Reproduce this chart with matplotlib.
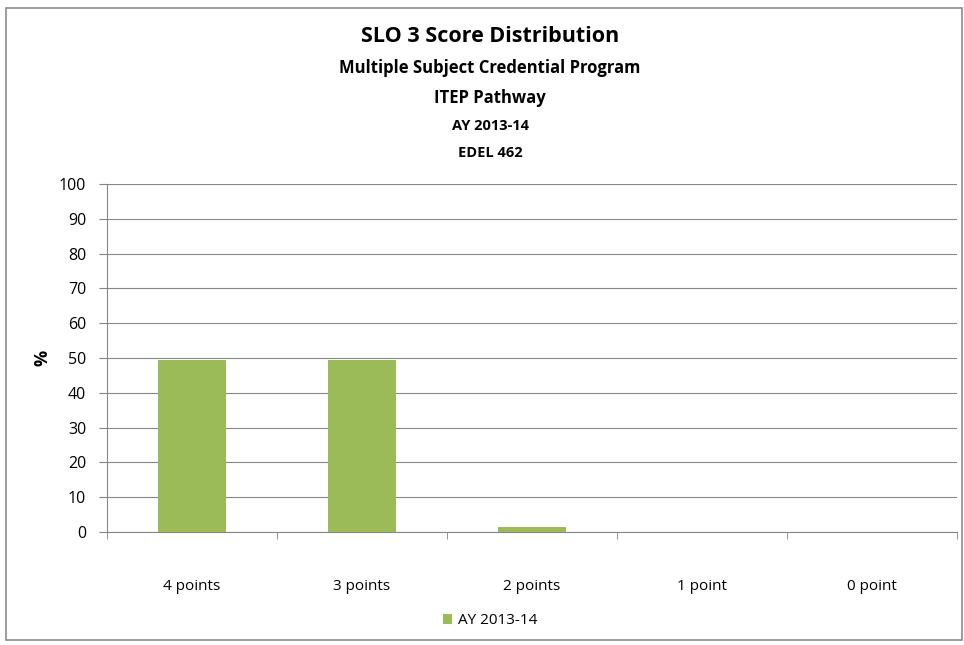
import matplotlib.pyplot as plt
from matplotlib.patches import Rectangle

# Datos
categorias = ["4 points", "3 points", "2 points", "1 point", "0 point"]
valores = [49.4, 49.4, 1.4, 0, 0]
serie = "AY 2013-14"
titulos = ["SLO 3 Score Distribution", "Multiple Subject Credential Program",
           "ITEP Pathway", "AY 2013-14", "EDEL 462"]

plt.rcParams['font.family'] = ['Open Sans', 'DejaVu Sans']

fig = plt.figure(figsize=(9.64, 6.45), dpi=100)
ax = fig.add_axes([107 / 964, 1 - 532 / 645, (957 - 107) / 964, (532 - 184) / 645])

# Marco del gráfico
fig.patches.append(Rectangle((6 / 964, 5 / 645), 956 / 964, 632 / 645,
                             transform=fig.transFigure, fill=False,
                             edgecolor="#8c8c8c", linewidth=1.2))

x = range(len(categorias))
ax.bar(x, valores, width=0.4, color="#9BBB59", label=serie, zorder=3)

ax.set_ylim(0, 100)
ax.set_xlim(-0.5, len(categorias) - 0.5)
ax.set_yticks(range(0, 101, 10))
ax.set_xticks(list(x))
ax.set_xticklabels(categorias)
ax.tick_params(axis="x", length=0, pad=34, labelsize=11)
ax.tick_params(axis="y", length=6, color="#868686", labelsize=11.5, pad=9)
ax.set_xticks([i + 0.5 for i in range(-1, len(categorias))], minor=True)
ax.tick_params(axis="x", which="minor", length=5, color="#868686")

ax.grid(axis="y", color="#868686", linewidth=0.8, zorder=0)
for s in ["top", "right"]:
    ax.spines[s].set_visible(False)
ax.spines["left"].set_color("#868686")
ax.spines["bottom"].set_color("#868686")

ax.set_ylabel("%", fontsize=13, fontweight="bold", labelpad=5)

# Títulos
ys = [37, 68, 98, 126, 153]
tamanos = [15.5, 12, 12, 10.5, 10.5]
for t, y, s in zip(titulos, ys, tamanos):
    fig.text(490 / 964, 1 - y / 645, t, ha="center", va="center",
             fontsize=s, fontweight="bold")

ax.legend(loc="center", bbox_to_anchor=(490 / 964, 1 - 621 / 645),
          bbox_transform=fig.transFigure, frameon=False, fontsize=11,
          handlelength=0.6, handleheight=0.6, handletextpad=0.4)

plt.savefig("out.png", dpi=100)
